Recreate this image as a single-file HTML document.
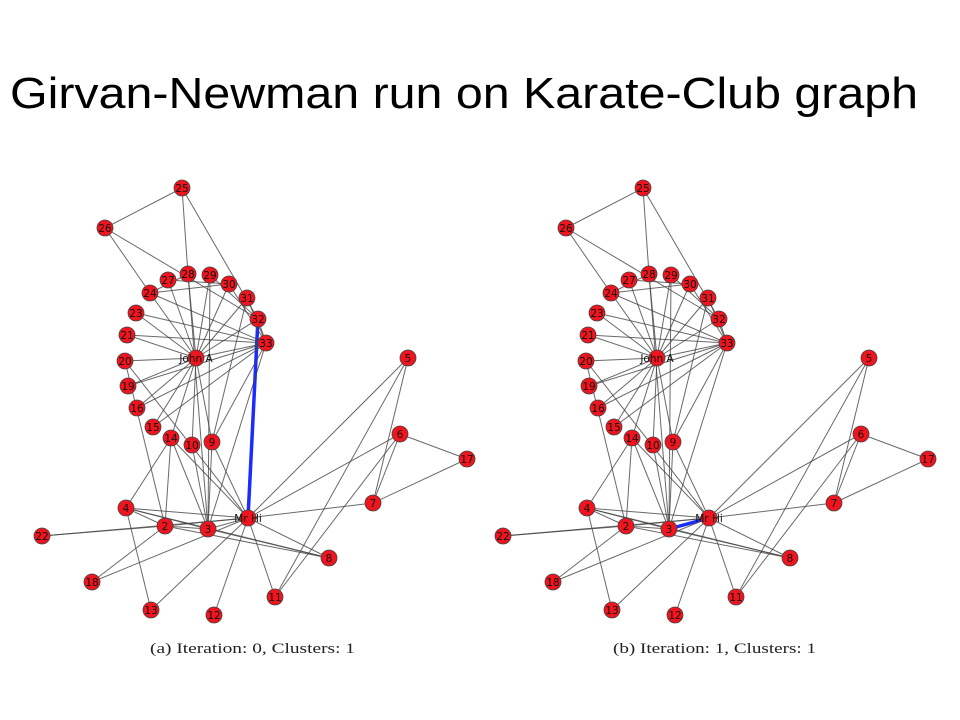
<!DOCTYPE html>
<html><head><meta charset="utf-8"><style>
html,body{margin:0;padding:0;background:#fff;width:960px;height:720px;overflow:hidden}
svg{display:block}
</style></head><body>
<svg id="s" width="960" height="720" viewBox="0 0 960 720">
<text x="10" y="108" font-family="Liberation Sans, sans-serif" font-size="44" textLength="908" lengthAdjust="spacingAndGlyphs" fill="#000">Girvan-Newman run on Karate-Club graph</text>
<text x="150" y="653" font-family="Liberation Serif, serif" font-size="15" textLength="205" lengthAdjust="spacingAndGlyphs" fill="#222">(a) Iteration: 0, Clusters: 1</text>
<text x="613" y="653" font-family="Liberation Serif, serif" font-size="15" textLength="203" lengthAdjust="spacingAndGlyphs" fill="#222">(b) Iteration: 1, Clusters: 1</text>
</svg>
<script>
const nodeIds=[1,2,3,4,5,6,7,8,9,10,11,12,13,14,15,16,17,18,19,20,21,22,23,24,25,26,27,28,29,30,31,32,33,34];
const nodeLabels=["Mr Hi","2","3","4","5","6","7","8","9","10","11","12","13","14","15","16","17","18","19","20","21","22","23","24","25","26","27","28","29","30","31","32","33","John A"];
const nodeX=[248,165,208,126,408,400,373,329,212,192,275,214,151,171,153,137,467,92,128,125,127,42,136,150,182,105,168,188,210,229,247,258,266,196];
const nodeY=[518,526,529,508,358,434,503,558,442,445,597,615,610,438,427,408,459,582,386,361,335,536,313,293,188,228,280,274,275,284,298,319,343,358];
const edgeFrom=[1,1,1,1,1,1,1,1,1,1,1,1,1,1,1,1,2,2,2,2,2,2,2,3,3,3,3,3,3,3,3,4,4,4,5,5,6,6,6,7,9,9,9,10,14,15,15,16,16,19,19,20,21,21,23,23,24,24,24,24,24,25,25,25,26,27,27,28,29,29,30,30,31,31,32,32,33];
const edgeTo=[2,3,4,5,6,7,8,9,11,12,13,14,18,20,22,32,3,4,8,14,18,20,22,4,8,9,10,14,28,29,33,8,13,14,7,11,7,11,17,17,31,33,34,34,34,33,34,33,34,33,34,34,33,34,33,34,26,28,30,33,34,26,28,32,32,30,34,34,32,34,33,34,33,34,33,34,34];
const removedEdges=[[],[[1,32]]];
const highlightEdges=[[1,32],[1,3]];
const panelOffset=[0,461];
const NS="http://www.w3.org/2000/svg";
const svg=document.getElementById('s');
function px(i,p){return nodeX[i]+panelOffset[p];}
function py(i){return nodeY[i];}
for(let p=0;p<2;p++){
  const g=document.createElementNS(NS,'g');
  
  
  svg.appendChild(g);
  const hl=highlightEdges[p];
  const rm=removedEdges[p];
  for(let e=0;e<edgeFrom.length;e++){
    const a=edgeFrom[e],b=edgeTo[e];
    if(rm.some(r=>r[0]===a&&r[1]===b))continue;
    const ia=nodeIds.indexOf(a),ib=nodeIds.indexOf(b);
    const isH=(hl[0]===a&&hl[1]===b);
    const l=document.createElementNS(NS,'line');
    l.setAttribute('x1',px(ia,p));l.setAttribute('y1',py(ia));
    l.setAttribute('x2',px(ib,p));l.setAttribute('y2',py(ib));
    l.setAttribute('stroke',isH?'#1a2cff':'#444');
    l.setAttribute('stroke-width',isH?3.5:1);
    l.setAttribute('stroke-opacity',isH?1:0.8);
    
    
    g.appendChild(l);
  }
  for(let i=0;i<nodeIds.length;i++){
    const c=document.createElementNS(NS,'circle');
    c.setAttribute('cx',px(i,p));c.setAttribute('cy',py(i));c.setAttribute('r',8);
    c.setAttribute('fill','#f0141e');c.setAttribute('stroke','#444');c.setAttribute('stroke-width',0.8);
    
    
    g.appendChild(c);
    const t=document.createElementNS(NS,'text');
    t.setAttribute('x',px(i,p));t.setAttribute('y',py(i)+4);
    t.setAttribute('text-anchor','middle');
    t.setAttribute('font-family','DejaVu Sans, sans-serif');
    t.setAttribute('font-size','10.5');
    t.setAttribute('fill','#111');
    t.textContent=nodeLabels[i];
    
    
    g.appendChild(t);
  }
}
</script>
</body></html>
